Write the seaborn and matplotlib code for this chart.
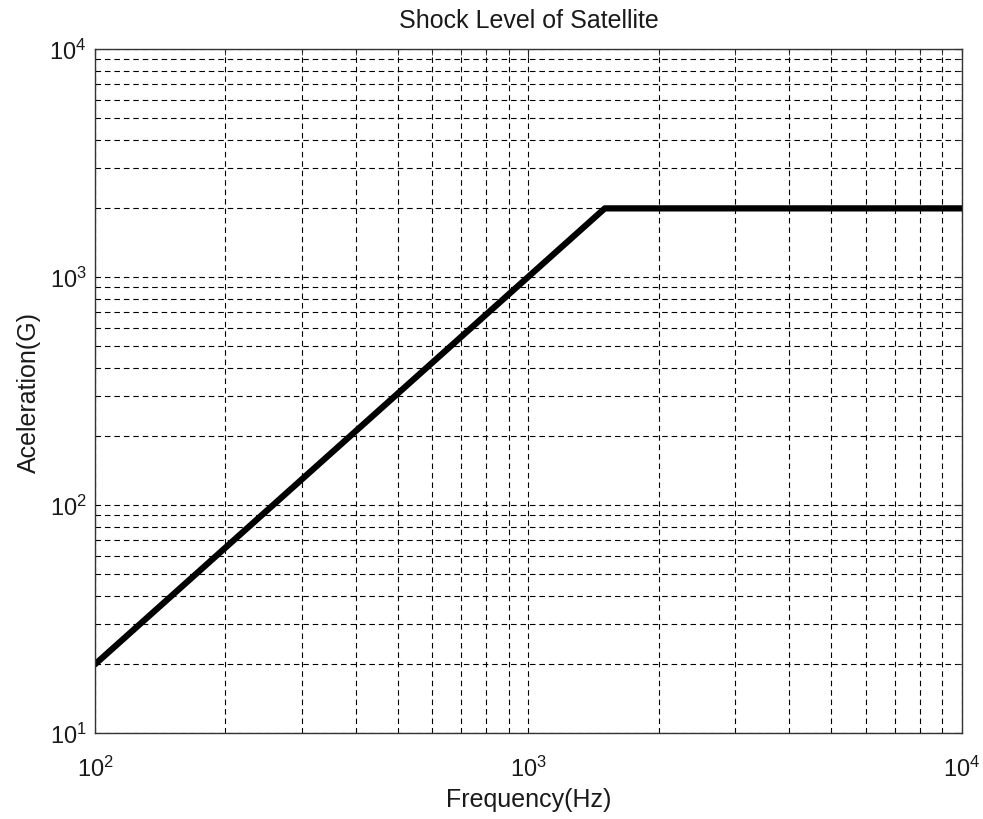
import seaborn as sns
import matplotlib.pyplot as plt
import pandas as pd

# shock spectrum corner points
freq_hz = [100, 1500, 10000]
accel_g = [20, 2000, 2000]

df = pd.DataFrame({"Frequency(Hz)": freq_hz, "Aceleration(G)": accel_g})

sns.set_style("white")
plt.rcParams['font.family'] = ['Liberation Sans', 'DejaVu Sans']
plt.rcParams['mathtext.fontset'] = 'custom'
plt.rcParams['mathtext.rm'] = 'Liberation Sans'
plt.rcParams['text.color'] = '#1a1a1a'
plt.rcParams['axes.labelcolor'] = '#1a1a1a'
plt.rcParams['xtick.labelcolor'] = '#1a1a1a'
plt.rcParams['ytick.labelcolor'] = '#1a1a1a'

fig = plt.figure(figsize=(9.83, 8.2), dpi=100)
ax = fig.add_axes([0.0966, 0.1049, 0.8820, 0.8341])

sns.lineplot(x="Frequency(Hz)", y="Aceleration(G)", data=df, color="black",
             linewidth=4.5, ax=ax)

ax.set_xscale("log")
ax.set_yscale("log")
ax.set_xlim(100, 10000)
ax.set_ylim(10, 10000)

ax.grid(True, which="both", color="black", linestyle=(0, (5, 3.5)), linewidth=0.8)
ax.tick_params(which="both", direction="in", top=True, right=True, labelsize=17)
ax.tick_params(axis="x", which="both", pad=16)
ax.tick_params(axis="y", which="both", pad=6)
ax.tick_params(which="minor", length=4)
ax.tick_params(which="major", length=6)
for s in ax.spines.values():
    s.set_color("#333333")
    s.set_linewidth(1)

ax.set_title("Shock Level of Satellite", fontsize=18, pad=16)
ax.set_xlabel("Frequency(Hz)", fontsize=18, labelpad=5)
ax.set_ylabel("Aceleration(G)", fontsize=18, labelpad=6)

fig.savefig("out.png")
